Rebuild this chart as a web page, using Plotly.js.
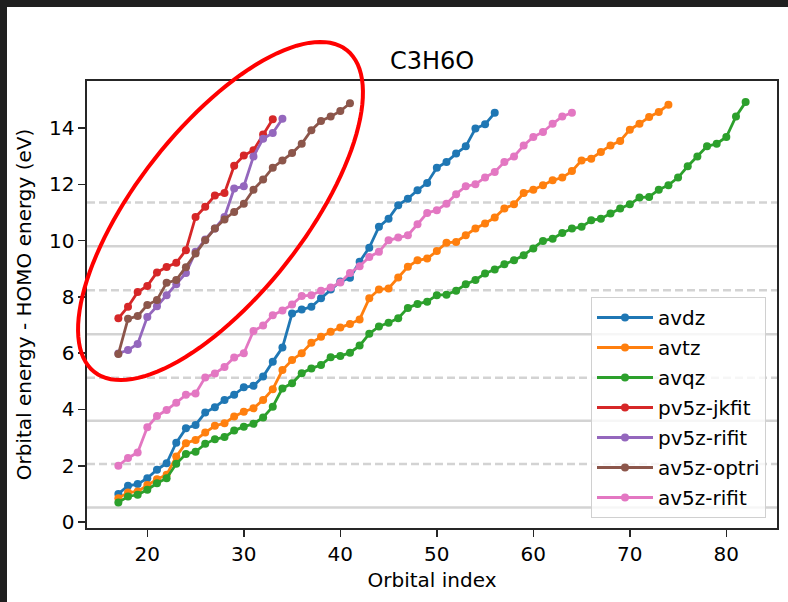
<!DOCTYPE html>
<html>
<head>
<meta charset="utf-8">
<script src="https://cdn.plot.ly/plotly-3.0.1.min.js"></script>
<style>
  html, body { margin: 0; padding: 0; background: #ffffff; }
  #wrap { position: relative; width: 788px; height: 602px; overflow: hidden; }
  #chart { position: absolute; left: 0; top: 0; width: 788px; height: 602px; }
  .frameTop { position: absolute; left: 0; top: 0; width: 788px; height: 7px; background: #1f1f1f; }
  .frameLeft { position: absolute; left: 0; top: 0; width: 7px; height: 602px; background: #1f1f1f; }
</style>
</head>
<body>
<div id="wrap">
  <div id="chart"></div>
  <div class="frameTop"></div>
  <div class="frameLeft"></div>
</div>
<script>
// ---- data (orbital energy minus HOMO energy, eV) ----
const firstOrbital = 17;
const seriesNames = ["avdz", "avtz", "avqz", "pv5z-jkfit", "pv5z-rifit", "av5z-optri", "av5z-rifit"];
const seriesColors = ["#1f77b4", "#ff7f0e", "#2ca02c", "#d62728", "#9467bd", "#8c564b", "#e377c2"];

const avdz = [1.00, 1.29, 1.35, 1.56, 1.86, 2.09, 2.82, 3.33, 3.45, 3.89, 4.08, 4.34, 4.52, 4.79, 4.84, 5.17,
  5.70, 6.20, 7.41, 7.55, 7.65, 7.95, 8.26, 8.55, 8.68, 9.25, 9.75, 10.49, 10.78, 11.26, 11.49, 11.79,
  12.05, 12.59, 12.79, 13.09, 13.35, 13.98, 14.13, 14.54];
const avtz = [0.85, 1.05, 1.09, 1.32, 1.52, 1.68, 2.33, 2.80, 2.92, 3.18, 3.42, 3.51, 3.75, 3.92, 4.04, 4.34,
  4.72, 5.40, 5.76, 6.00, 6.37, 6.58, 6.76, 6.91, 7.04, 7.20, 7.95, 8.26, 8.30, 8.69, 9.07, 9.30,
  9.36, 9.63, 9.92, 9.95, 10.19, 10.43, 10.61, 10.82, 11.14, 11.29, 11.69, 11.81, 11.97, 12.14, 12.24, 12.47,
  12.85, 12.91, 13.15, 13.38, 13.54, 13.94, 14.15, 14.39, 14.57, 14.83];
const avqz = [0.70, 0.91, 0.97, 1.15, 1.38, 1.56, 2.07, 2.42, 2.50, 2.78, 2.94, 3.02, 3.25, 3.39, 3.49, 3.72,
  4.10, 4.75, 4.93, 5.29, 5.46, 5.58, 5.86, 5.90, 6.02, 6.27, 6.69, 6.95, 7.08, 7.24, 7.61, 7.75,
  7.83, 8.06, 8.08, 8.22, 8.45, 8.60, 8.83, 8.97, 9.16, 9.30, 9.48, 9.72, 9.99, 10.07, 10.27, 10.43,
  10.49, 10.72, 10.78, 10.96, 11.14, 11.29, 11.53, 11.55, 11.81, 11.97, 12.24, 12.64, 12.99, 13.35, 13.44, 13.68,
  14.41, 14.92];
const pv5zJkfit = [7.24, 7.65, 8.17, 8.39, 8.87, 9.06, 9.21, 9.66, 10.84, 11.20, 11.60, 11.69, 12.66, 13.02, 13.21, 13.77, 14.31];
const pv5zRifit = [5.99, 6.11, 6.33, 7.29, 7.67, 8.06, 8.45, 8.85, 9.60, 10.04, 10.43, 10.84, 11.85, 11.93, 12.99, 13.62, 13.82, 14.33];
const av5zOptri = [5.97, 7.22, 7.32, 7.71, 7.89, 8.50, 8.60, 9.05, 9.54, 10.01, 10.43, 10.75, 11.02, 11.31, 11.81, 12.17,
  12.59, 12.85, 13.11, 13.44, 13.92, 14.25, 14.41, 14.60, 14.88];
const av5zRifit = [2.00, 2.28, 2.47, 3.37, 3.77, 3.98, 4.24, 4.52, 4.57, 5.14, 5.28, 5.51, 5.85, 6.00, 6.79, 6.98,
  7.35, 7.52, 7.73, 8.03, 8.06, 8.22, 8.33, 8.51, 8.85, 9.09, 9.42, 9.60, 10.01, 10.11, 10.19, 10.58,
  10.98, 11.08, 11.31, 11.65, 11.93, 12.00, 12.24, 12.44, 12.79, 12.99, 13.38, 13.68, 13.86, 14.15, 14.41, 14.54];

// reference horizontal lines (eV)
const solidRefLines = [0.52, 3.60, 6.67, 9.80];
const dashedRefLines = [2.06, 5.13, 8.24, 11.35];

const xTicks = [20, 30, 40, 50, 60, 70, 80];
const yTicks = [0, 2, 4, 6, 8, 10, 12, 14];

const allSeries = [avdz, avtz, avqz, pv5zJkfit, pv5zRifit, av5zOptri, av5zRifit];

// ---- build traces ----
const FONT = "DejaVu Sans, Verdana, sans-serif";
const traces = allSeries.map((vals, i) => ({
  type: "scatter",
  mode: "lines+markers",
  name: seriesNames[i],
  legendgroup: "g" + i,
  x: vals.map((_, k) => firstOrbital + k),
  y: vals,
  line: { color: seriesColors[i], width: 2.8 },
  marker: { color: seriesColors[i], size: 8 },
  hoverinfo: "x+y+name"
}));

// ---- shapes: reference lines ----
const shapes = [];
solidRefLines.forEach(v => shapes.push({
  type: "line", xref: "paper", x0: 0, x1: 1, yref: "y", y0: v, y1: v,
  line: { color: "rgb(211,211,211)", width: 2.5 }, layer: "below"
}));
dashedRefLines.forEach(v => shapes.push({
  type: "line", xref: "paper", x0: 0, x1: 1, yref: "y", y0: v, y1: v,
  line: { color: "rgb(211,211,211)", width: 2.5, dash: "8px,4px" }, layer: "below"
}));

// ---- red highlight ellipse (annotation drawn over the figure) ----
const W = 788, H = 602;
const M = { l: 87, r: 11, t: 81, b: 74 };
const plotW = W - M.l - M.r, plotH = H - M.t - M.b;
const ell = { cx: 220.5, cy: 211, a: 204.5, b: 84, deg: 51.9 };
(function () {
  const th = ell.deg * Math.PI / 180;
  const ux = Math.cos(th), uy = -Math.sin(th);
  const vx = Math.sin(th), vy = Math.cos(th);
  let p = "";
  const N = 120;
  for (let k = 0; k <= N; k++) {
    const t = 2 * Math.PI * k / N;
    const px = ell.cx + ell.a * Math.cos(t) * ux + ell.b * Math.sin(t) * vx;
    const py = ell.cy + ell.a * Math.cos(t) * uy + ell.b * Math.sin(t) * vy;
    const fx = (px - M.l) / plotW;
    const fy = (H - M.b - py) / plotH;
    p += (k === 0 ? "M" : "L") + fx.toFixed(5) + "," + fy.toFixed(5);
  }
  p += "Z";
  shapes.push({ type: "path", xref: "paper", yref: "paper", path: p,
    line: { color: "#ff0000", width: 4 }, layer: "above" });
})();

const axisCommon = {
  showgrid: false, zeroline: false,
  showline: true, mirror: true, linecolor: "#262626", linewidth: 1.6,
  ticks: "outside", ticklen: 7, tickwidth: 1.6, tickcolor: "#262626",
  tickfont: { family: FONT, size: 20, color: "#000" }
};

const layout = {
  width: W, height: H,
  margin: M,
  paper_bgcolor: "#ffffff", plot_bgcolor: "#ffffff",
  font: { family: FONT, color: "#000" },
  title: { text: "C3H6O", font: { family: FONT, size: 24, color: "#000" },
    x: 0.5, xref: "paper", xanchor: "center", y: 1 - 61 / H, yref: "container", yanchor: "middle" },
  xaxis: Object.assign({}, axisCommon, {
    range: [13.75, 85.25], tickmode: "array", tickvals: xTicks, ticktext: xTicks.map(String),
    title: { text: "Orbital index", font: { family: FONT, size: 20, color: "#000" }, standoff: 8 }
  }),
  yaxis: Object.assign({}, axisCommon, {
    range: [-0.21, 15.67], tickmode: "array", tickvals: yTicks, ticktext: yTicks.map(String),
    title: { text: "Orbital energy - HOMO energy (eV)", font: { family: FONT, size: 20, color: "#000" }, standoff: 12 }
  }),
  showlegend: true,
  legend: {
    x: (766 - M.l) / plotW, xanchor: "right",
    y: (H - M.b - 518) / plotH, yanchor: "bottom",
    bgcolor: "rgba(255,255,255,0.8)", bordercolor: "#d0d0d0", borderwidth: 1,
    font: { family: FONT, size: 20, color: "#000" },
    traceorder: "grouped", tracegroupgap: 1, itemwidth: 56
  },
  shapes: shapes
};

Plotly.newPlot("chart", traces, layout, { displayModeBar: false, staticPlot: true });
</script>
</body>
</html>
